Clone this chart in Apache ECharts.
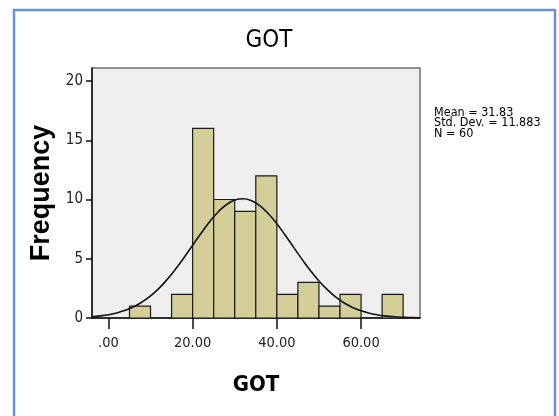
<!DOCTYPE html>
<html><head><meta charset="utf-8">
<script src="https://cdn.jsdelivr.net/npm/echarts@6/dist/echarts.min.js"></script>
<style>html,body{margin:0;padding:0;background:#fff}#c{width:559px;height:416px}</style>
</head><body><div id="c"></div>
<script>
// Histogram bins (GOT)
const binLow  = [5, 15, 20, 25, 30, 35, 40, 45, 50, 55, 65];
const binHigh = [10, 20, 25, 30, 35, 40, 45, 50, 55, 60, 70];
const counts  = [1, 2, 16, 10, 9, 12, 2, 3, 1, 2, 2];
// Normal curve
const curveX = [-4,-2,0,2,4,6,8,10,12,14,16,18,20,22,24,26,28,30,32,34,36,38,40,42,44,46,48,50,52,54,56,58,60,62,64,66,68,70,72,74];
const curveY = [0.11,0.18,0.28,0.43,0.65,0.95,1.35,1.86,2.50,3.27,4.15,5.12,6.14,7.15,8.11,8.93,9.56,9.95,10.07,9.90,9.47,8.80,7.95,6.98,5.96,4.95,3.99,3.13,2.39,1.77,1.27,0.89,0.61,0.40,0.26,0.16,0.10,0.06,0.03,0.02];
const xTicks = [0, 20, 40, 60];
const xTickLabels = ['.00', '20.00', '40.00', '60.00'];
const yTicks = [0, 5, 10, 15, 20];
const titleText = 'GOT';
const xName = 'GOT';
const yName = 'Frequency';
const statsLines = ['Mean = 31.83', 'Std. Dev. = 11.883', 'N = 60'];

const NARROW = "'Liberation Sans Narrow','Arial Narrow','DejaVu Sans Condensed',sans-serif";
const chart = echarts.init(document.getElementById('c'), null, {renderer: 'canvas'});
const barData = binLow.map((lo, i) => [lo, binHigh[i], counts[i]]);
chart.setOption({
  animation: false,
  graphic: [{
    type: 'rect', z: -10,
    shape: {x: 14, y: 10, width: 541, height: 420},
    style: {fill: '#fff', stroke: '#6494d6', lineWidth: 2.5}
  }],
  title: [{
    text: titleText, left: 264, top: 24, textAlign: 'center',
    textStyle: {fontFamily: NARROW, fontSize: 24, fontWeight: 'normal', color: '#000'}
  }, {
    text: statsLines.join('\n'), left: 429, top: 102,
    textStyle: {fontFamily: NARROW, fontSize: 12.5, fontWeight: 'normal', color: '#000', lineHeight: 10.5}
  }],
  grid: {left: 92, top: 68, right: 139, bottom: 98, show: true,
         backgroundColor: '#efefef', borderColor: '#707070', borderWidth: 1.5},
  xAxis: {
    type: 'value', min: -3.9, max: 74,
    name: xName, nameLocation: 'middle', nameGap: 56,
    nameTextStyle: {fontFamily: NARROW, fontSize: 22, fontWeight: 'bold', color: '#000'},
    axisLine: {show: true, onZero: false, lineStyle: {color: '#111', width: 1.5}},
    axisTick: {show: true, length: 11, customValues: xTicks, lineStyle: {color: '#111', width: 1.5}},
    axisLabel: {customValues: xTicks, margin: 18, fontFamily: NARROW, fontSize: 14.5, color: '#222',
      formatter: v => xTickLabels[xTicks.indexOf(v)] ?? ''},
    splitLine: {show: false}
  },
  yAxis: {
    type: 'value', min: 0, max: 21.1,
    name: yName, nameLocation: 'middle', nameGap: 33, nameRotate: 90,
    nameTextStyle: {fontFamily: "'Liberation Sans',Arial,sans-serif", fontSize: 27, fontWeight: 'bold', color: '#000'},
    axisLine: {show: true, onZero: false, lineStyle: {color: '#111', width: 1.5}},
    axisTick: {show: true, length: 6, customValues: yTicks, lineStyle: {color: '#111', width: 1.5}},
    axisLabel: {customValues: yTicks, margin: 9, fontFamily: NARROW, fontSize: 15, color: '#222'},
    splitLine: {show: false}
  },
  series: [{
    type: 'custom',
    data: barData,
    encode: {x: [0, 1], y: 2},
    renderItem: function (params, api) {
      const p0 = api.coord([api.value(0), api.value(2)]);
      const p1 = api.coord([api.value(1), 0]);
      return {
        type: 'rect',
        shape: {x: p0[0], y: p0[1], width: p1[0] - p0[0], height: p1[1] - p0[1]},
        style: {fill: '#d4cf98', stroke: '#1a1a1a', lineWidth: 1.2}
      };
    },
    z: 2
  }, {
    type: 'line',
    data: curveX.map((x, i) => [x, curveY[i]]),
    smooth: true, symbol: 'none', clip: true,
    lineStyle: {color: '#111', width: 1.6},
    z: 3
  }]
});
</script></body></html>
